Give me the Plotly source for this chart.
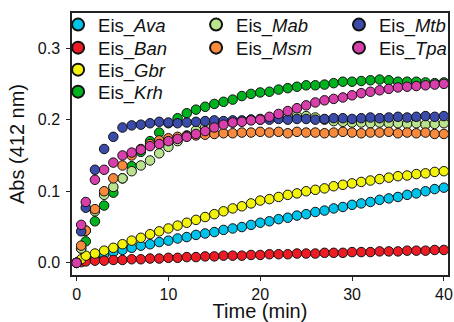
import plotly.graph_objects as go

# ---- data ----
time_min = [0, 0.5] + list(range(1, 41))

names = ["Eis_<i>Ava</i>", "Eis_<i>Ban</i>", "Eis_<i>Gbr</i>", "Eis_<i>Krh</i>",
         "Eis_<i>Mab</i>", "Eis_<i>Msm</i>", "Eis_<i>Mtb</i>", "Eis_<i>Tpa</i>"]

ava = [0.000, 0.003, 0.006, 0.009, 0.012, 0.015, 0.018, 0.021, 0.024, 0.026, 0.029, 0.031,
       0.034, 0.036, 0.039, 0.041, 0.043, 0.046, 0.048, 0.050, 0.053, 0.056,
       0.058, 0.061, 0.063, 0.066, 0.068, 0.071, 0.073, 0.076, 0.078, 0.081,
       0.083, 0.085, 0.088, 0.090, 0.092, 0.095, 0.097, 0.100, 0.103, 0.105]
ban = [0.000, 0.001, 0.002, 0.003, 0.003, 0.004, 0.004, 0.005, 0.005, 0.006, 0.006, 0.007,
       0.007, 0.008, 0.008, 0.009, 0.009, 0.010, 0.010, 0.010, 0.011, 0.011,
       0.012, 0.012, 0.012, 0.013, 0.013, 0.013, 0.014, 0.014, 0.014, 0.015,
       0.015, 0.015, 0.016, 0.016, 0.016, 0.017, 0.017, 0.017, 0.018, 0.018]
gbr = [0.000, 0.005, 0.010, 0.013, 0.017, 0.021, 0.026, 0.031, 0.035, 0.040, 0.044, 0.048,
       0.052, 0.056, 0.060, 0.064, 0.068, 0.072, 0.076, 0.079, 0.083, 0.087,
       0.089, 0.092, 0.095, 0.097, 0.100, 0.102, 0.104, 0.107, 0.109, 0.111,
       0.113, 0.115, 0.117, 0.119, 0.121, 0.122, 0.124, 0.125, 0.127, 0.128]
krh = [0.000, 0.020, 0.030, 0.058, 0.080, 0.098, 0.118, 0.135, 0.155, 0.170, 0.182, 0.195,
       0.202, 0.209, 0.214, 0.218, 0.222, 0.225, 0.228, 0.233, 0.236, 0.238,
       0.239, 0.242, 0.244, 0.246, 0.248, 0.248, 0.249, 0.251, 0.253, 0.253,
       0.254, 0.255, 0.256, 0.255, 0.253, 0.253, 0.253, 0.252, 0.251, 0.252]
mab = [0.000, 0.020, 0.045, 0.072, 0.095, 0.106, 0.118, 0.128, 0.136, 0.143, 0.153, 0.162,
       0.170, 0.178, 0.185, 0.189, 0.192, 0.195, 0.196, 0.198, 0.200, 0.201,
       0.202, 0.203, 0.204, 0.205, 0.205, 0.203, 0.200, 0.198, 0.197, 0.196,
       0.196, 0.195, 0.196, 0.195, 0.195, 0.194, 0.195, 0.193, 0.194, 0.195]
msm = [0.000, 0.024, 0.045, 0.075, 0.100, 0.118, 0.136, 0.150, 0.159, 0.166, 0.171, 0.174,
       0.176, 0.177, 0.178, 0.179, 0.180, 0.181, 0.181, 0.182, 0.182, 0.183,
       0.182, 0.183, 0.181, 0.183, 0.182, 0.182, 0.181, 0.182, 0.183, 0.182,
       0.181, 0.182, 0.182, 0.183, 0.181, 0.182, 0.181, 0.182, 0.180, 0.180]
mtb = [0.000, 0.044, 0.077, 0.130, 0.159, 0.176, 0.189, 0.192, 0.193, 0.195, 0.197, 0.196,
       0.195, 0.196, 0.197, 0.198, 0.199, 0.198, 0.199, 0.199, 0.200, 0.200,
       0.200, 0.201, 0.200, 0.201, 0.201, 0.200, 0.201, 0.202, 0.202, 0.201,
       0.202, 0.203, 0.202, 0.203, 0.204, 0.203, 0.204, 0.205, 0.204, 0.205]
tpa = [0.000, 0.053, 0.085, 0.116, 0.130, 0.140, 0.150, 0.154, 0.158, 0.163, 0.166, 0.170,
       0.173, 0.176, 0.180, 0.184, 0.189, 0.193, 0.196, 0.197, 0.199, 0.200,
       0.204, 0.208, 0.212, 0.216, 0.220, 0.224, 0.227, 0.229, 0.231, 0.234,
       0.237, 0.239, 0.241, 0.243, 0.245, 0.246, 0.247, 0.248, 0.249, 0.250]

series = [ava, ban, gbr, krh, mab, msm, mtb, tpa]
colors = ["#00C3EB", "#ED1C24", "#F2F20A", "#00B31E", "#B9E38C", "#F78A3C", "#3B4BAA", "#D83FAA"]

x_ticks = [0, 10, 20, 30, 40]
y_ticks = [0.0, 0.1, 0.2, 0.3]

FONT = "Liberation Sans, Arial, sans-serif"

# legend grid: 3 columns (column-major), one legend box per entry
leg_cols = [-0.037, -0.037, -0.037, -0.037, 0.330, 0.330, 0.710, 0.710]
leg_rows = [0.954, 0.866, 0.782, 0.698, 0.954, 0.866, 0.954, 0.866]

fig = go.Figure()
leg_layout = {}
for i, (nm, ys, c) in enumerate(zip(names, series, colors)):
    key = "legend" if i == 0 else f"legend{i + 1}"
    fig.add_trace(go.Scatter(
        x=time_min, y=ys, name=nm, mode="markers", legend=key, showlegend=True,
        marker=dict(size=9.5, color=c, line=dict(color="#111111", width=1)),
        cliponaxis=False,
    ))
    leg_layout[key] = dict(
        x=leg_cols[i], y=leg_rows[i], xanchor="left", yanchor="middle",
        bgcolor="rgba(0,0,0,0)", borderwidth=0, itemsizing="constant",
        font=dict(family=FONT, size=18.5, color="#111"))

fig.update_layout(
    width=454, height=322, showlegend=True,
    margin=dict(l=72, r=6, t=13, b=47, autoexpand=False),
    plot_bgcolor="white", paper_bgcolor="white",
    font=dict(family=FONT, size=17, color="#111"),
    xaxis=dict(range=[-0.5, 40.45], tickvals=x_ticks, ticks="outside", ticklen=4,
               tickwidth=1.2, tickcolor="#222", showline=True, linecolor="#222",
               linewidth=1.5, mirror=True, showgrid=False, zeroline=False,
               title=dict(text="Time (min)", standoff=2),
               tickfont=dict(size=16)),
    yaxis=dict(range=[-0.017, 0.349], tickvals=y_ticks, tickformat=".1f",
               ticks="outside", ticklen=4, tickwidth=1.2, tickcolor="#222",
               showline=True, linecolor="#222", linewidth=1.5, mirror=True,
               showgrid=False, zeroline=False, ticklabelstandoff=3,
               title=dict(text="Abs (412 nm)", standoff=8),
               tickfont=dict(size=16)),
    **leg_layout,
)
# remove the browser's default 8px body margin so the 454x322 figure fills the window
fig.write_html("out.html", config={"displayModeBar": False},
               post_script="document.body.style.margin='0';")
